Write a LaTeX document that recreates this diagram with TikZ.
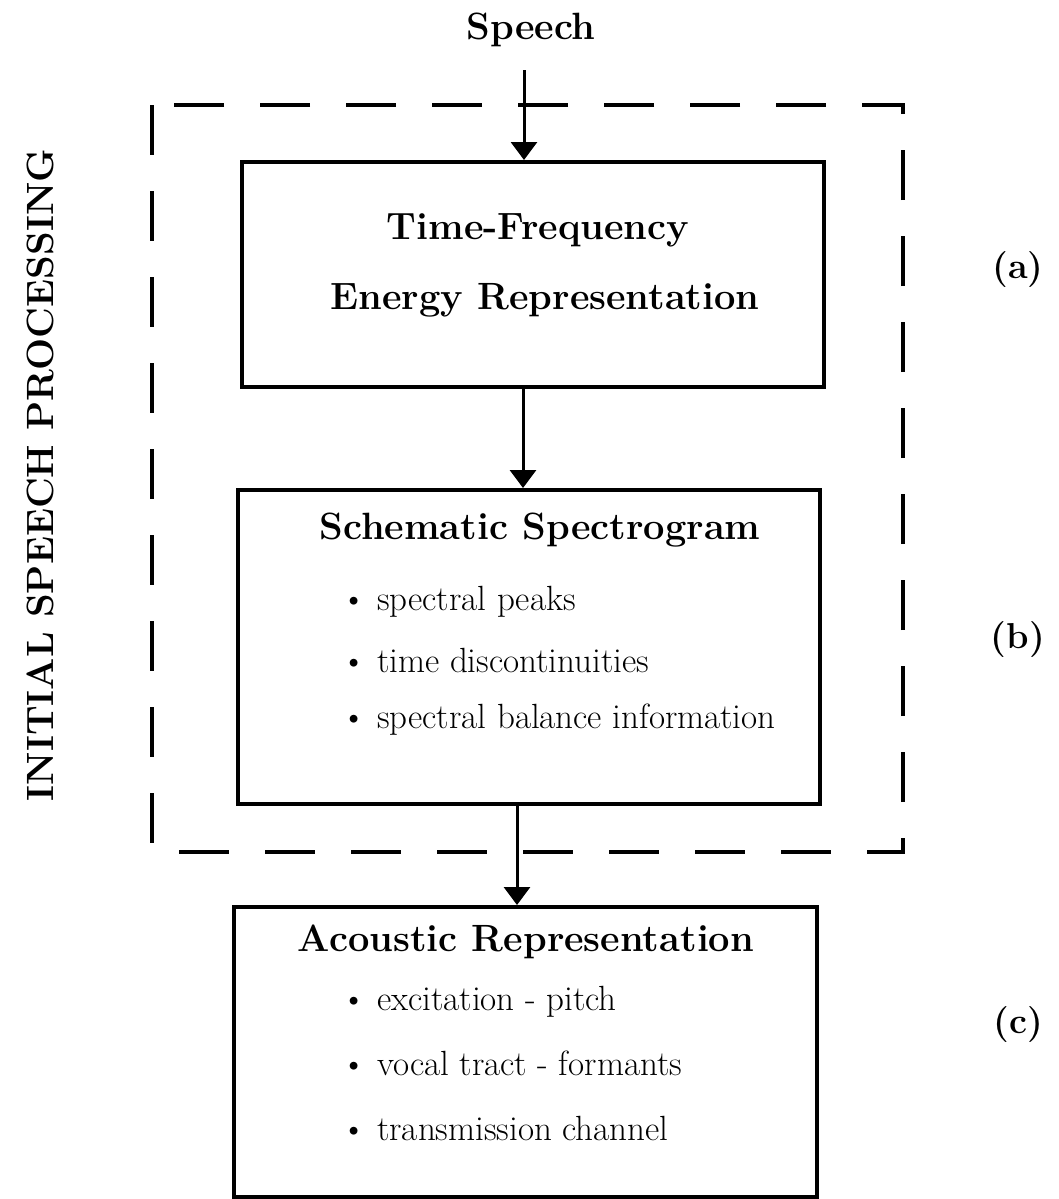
\documentclass[tikz,border=0pt]{standalone}
\usetikzlibrary{arrows.meta}
\begin{document}
\begin{tikzpicture}[x=0.5pt,y=-0.5pt,
  box/.style={draw,line width=2pt,inner sep=0pt,anchor=north west},
  arr/.style={line width=1.5pt,-{Triangle[length=9pt,width=13pt]}},
  frame/.style={line width=2pt,dash pattern=on 25pt off 18pt},
  ttl/.style={font=\bfseries\fontsize{19}{22}\selectfont,inner sep=0pt},
  bul/.style={font=\fontsize{17.5}{20}\selectfont,inner sep=0pt,anchor=west},
  lab/.style={font=\bfseries\fontsize{18}{21}\selectfont,inner sep=0pt}]
\useasboundingbox (0,0) rectangle (1059,1199);
% frame
\draw[frame] (152,105) rectangle (903,852);
% boxes
\node[box,minimum width=291pt,minimum height=112.5pt] (b1) at (240,160) {};
\node[box,minimum width=291pt,minimum height=157pt] (b2) at (236,488) {};
\node[box,minimum width=291.5pt,minimum height=145pt] (b3) at (232,905) {};
% speech
\node[ttl] (sp) at (531,30) {Speech};
\coordinate (sx) at (524,70);
\draw[arr] (sx) -- (sx |- b1.north);
% box 1 text
\node[ttl] (t1a) at (538,230) {Time-Frequency};
\node[ttl] (t1b) at (545,300) {Energy Representation};
% box 2 text
\node[ttl] (t2) at (540,530) {Schematic Spectrogram};
\node[bul] (i21) at (341,602) {\textbullet\ spectral peaks};
\node[bul] (i22) at (341,660) {\textbullet\ time discontinuities};
\node[bul] (i23) at (341,720) {\textbullet\ spectral balance information};
% box 3 text
\node[ttl] (t3) at (526,942) {Acoustic Representation};
\node[bul] (i31) at (341,1002) {\textbullet\ excitation - pitch};
\node[bul] (i32) at (341,1063) {\textbullet\ vocal tract - formants};
\node[bul] (i33) at (341,1128) {\textbullet\ transmission channel};
% arrows
\draw[arr] ([xshift=-5pt]b1.south) -- ([xshift=-5pt]b1.south |- b2.north);
\draw[arr] ([xshift=-6pt]b2.south) -- ([xshift=-6pt]b2.south |- b3.north);
% side labels
\node[lab] (la) at (1018,270) {(a)};
\node[lab] (lb) at (1018,640) {(b)};
\node[lab] (lc) at (1018,1025) {(c)};
\node[ttl,rotate=90] (isp) at (40,475) {INITIAL SPEECH PROCESSING};
\end{tikzpicture}
\end{document}
